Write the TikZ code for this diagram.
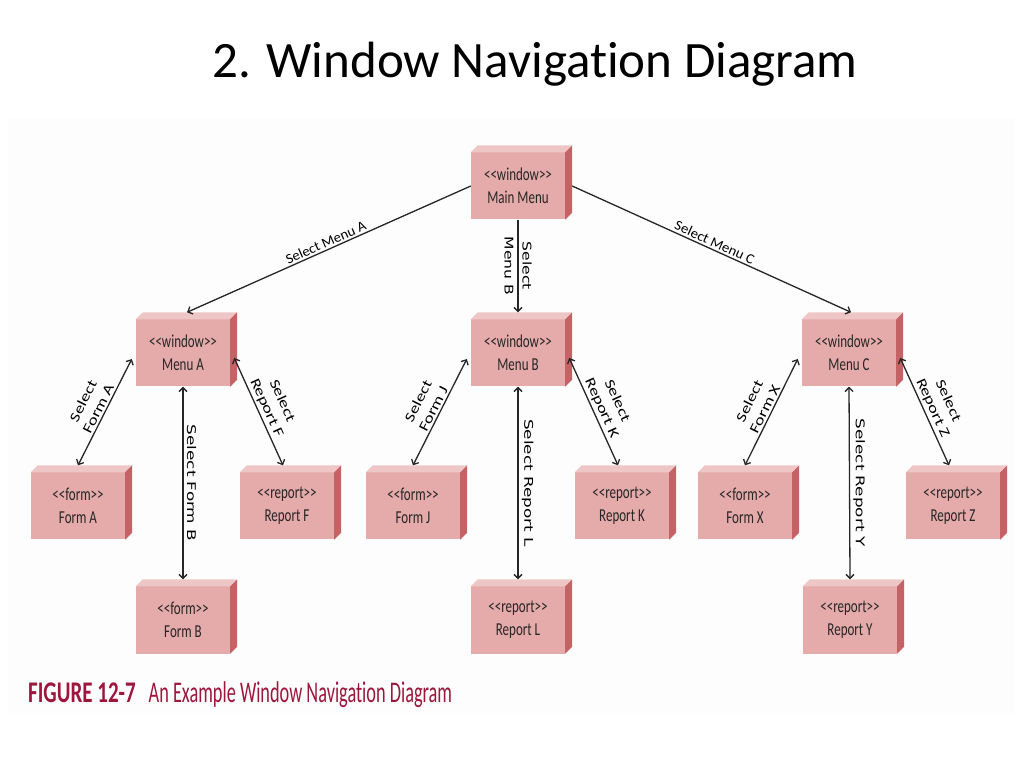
\documentclass[tikz,border=0pt]{standalone}
\usepackage{fontspec}
\setmainfont{Carlito}[Ligatures=NoCommon]
\newfontfamily\vfont{DejaVu Sans}
\usetikzlibrary{arrows.meta}
\definecolor{boxfront}{RGB}{229,170,170}
\definecolor{boxtop}{RGB}{239,198,198}
\definecolor{boxside}{RGB}{196,98,102}
\definecolor{capred}{RGB}{158,22,62}
\newcommand{\ltlt}{<\kern0pt<}
\newcommand{\gtgt}{>\kern0pt>}
\newcommand{\labx}[2]{\scalebox{#1}[1]{#2}}
\newcommand{\tall}[1]{\scalebox{1}[1.4]{#1}}
\begin{document}
\begin{tikzpicture}[x=1pt,y=1pt,
  win/.style={fill=boxfront, minimum width=94pt, minimum height=67pt, inner sep=0pt,
    align=center, text=black!85, font=\fontsize{13}{23}\selectfont},
  link/.style={draw=black!85, line width=1.3pt},
  slab/.style={font=\fontsize{14}{17}\selectfont, align=center, inner sep=2pt},
  vlab/.style={font=\vfont\fontsize{12}{18}\selectfont, align=center},
  >={Straight Barb[length=4pt,width=8pt]}]
\useasboundingbox (0,0) rectangle (1024,768);
\fill[gray!1.5] (8,53) rectangle (1015,650);
% title and caption
\node[anchor=base, font=\fontsize{51}{55}\selectfont] (title) at (535,690) {2. Window Navigation Diagram};
\node[anchor=base west, text=capred, font=\fontsize{30}{32}\selectfont, inner sep=0pt] (cap) at (28,66)
  {\labx{0.7}{\bfseries FIGURE 12-7}\hspace{13pt}\labx{0.61}{An Example Window Navigation Diagram}};
% windows
\node[win] (main) at (518,582) {\tall{\ltlt window\gtgt}\\\tall{Main Menu}};
\node[win] (mA) at (183,415) {\tall{\ltlt window\gtgt}\\\tall{Menu A}};
\node[win] (mB) at (518,415) {\tall{\ltlt window\gtgt}\\\tall{Menu B}};
\node[win] (mC) at (849,415) {\tall{\ltlt window\gtgt}\\\tall{Menu C}};
\node[win] (fA) at (78,262) {\tall{\ltlt form\gtgt}\\\tall{Form A}};
\node[win] (rF) at (287,262) {\tall{\ltlt report\gtgt}\\\tall{Report F}};
\node[win] (fB) at (183,148) {\tall{\ltlt form\gtgt}\\\tall{Form B}};
\node[win] (fJ) at (413,262) {\tall{\ltlt form\gtgt}\\\tall{Form J}};
\node[win] (rK) at (622,262) {\tall{\ltlt report\gtgt}\\\tall{Report K}};
\node[win] (rL) at (518,148) {\tall{\ltlt report\gtgt}\\\tall{Report L}};
\node[win] (fX) at (745,262) {\tall{\ltlt form\gtgt}\\\tall{Form X}};
\node[win] (rZ) at (953,262) {\tall{\ltlt report\gtgt}\\\tall{Report Z}};
\node[win] (rY) at (850,148) {\tall{\ltlt report\gtgt}\\\tall{Report Y}};
% top and side faces
\foreach \n in {main,mA,mB,mC,fA,rF,fB,fJ,rK,rL,fX,rZ,rY} {
  \fill[boxtop] (\n.north west) -- ++(7,7) -- ([shift={(7,7)}]\n.north east) -- (\n.north east) -- cycle;
  \fill[boxside] (\n.north east) -- ++(7,7) -- ([shift={(7,7)}]\n.south east) -- (\n.south east) -- cycle;
}
% main menu
\path[link,->] (main.west) -- ([shift={(4,7)}]mA.north)
  node[midway, sloped, above, slab] {\labx{1.05}{Select Menu A}};
\path[link,->] (main.south) -- ([shift={(0,7)}]mB.north)
  node[midway, rotate=-90, vlab] {\labx{1.3}{Select}\\\labx{1.3}{Menu B}};
\path[link,->] ([shift={(7,0)}]main.east) -- ([shift={(2,7)}]mC.north)
  node[midway, sloped, above, slab] {\labx{1.05}{Select Menu C}};
% menu A
\path[link,<->] ([shift={(0,7)}]fA.north) -- ([shift={(-4,-6)}]mA.west)
  node[midway, sloped, above, slab] {\labx{1.3}{Select}\\\labx{1.3}{Form A}};
\path[link,<->] ([shift={(4,-5)}]mA.east) -- ([shift={(-4,7)}]rF.north)
  node[midway, sloped, above, slab] {\labx{1.3}{Select}\\\labx{1.3}{Report F}};
\path[link,<->] (mA.south) -- ([shift={(0,7)}]fB.north)
  node[midway, rotate=-90, anchor=south, vlab] {\labx{1.4}{Select Form B}};
% menu B
\path[link,<->] ([shift={(0,7)}]fJ.north) -- ([shift={(-4,-6)}]mB.west)
  node[midway, sloped, above, slab] {\labx{1.3}{Select}\\\labx{1.3}{Form J}};
\path[link,<->] ([shift={(4,-5)}]mB.east) -- ([shift={(-4,7)}]rK.north)
  node[midway, sloped, above, slab] {\labx{1.3}{Select}\\\labx{1.3}{Report K}};
\path[link,<->] (mB.south) -- ([shift={(0,7)}]rL.north)
  node[midway, rotate=-90, anchor=south, vlab] {\labx{1.4}{Select Report L}};
% menu C
\path[link,<->] ([shift={(0,7)}]fX.north) -- ([shift={(-4,-6)}]mC.west)
  node[midway, sloped, above, slab] {\labx{1.3}{Select}\\\labx{1.3}{Form X}};
\path[link,<->] ([shift={(4,-5)}]mC.east) -- ([shift={(-4,7)}]rZ.north)
  node[midway, sloped, above, slab] {\labx{1.3}{Select}\\\labx{1.3}{Report Z}};
\path[link,<->] (mC.south) -- ([shift={(0,7)}]rY.north)
  node[midway, rotate=-90, anchor=south, vlab] {\labx{1.4}{Select Report Y}};
\end{tikzpicture}
\end{document}
